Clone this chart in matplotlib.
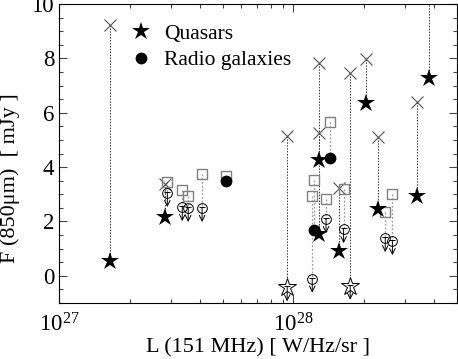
import numpy as np
import matplotlib
matplotlib.use('Agg')
import matplotlib.pyplot as plt
from matplotlib.lines import Line2D

plt.rcParams['font.family'] = ['Liberation Serif', 'DejaVu Serif']
plt.rcParams['mathtext.fontset'] = 'custom'
plt.rcParams['mathtext.rm'] = 'Liberation Serif'
plt.rcParams['mathtext.it'] = 'Liberation Serif:italic'
plt.rcParams['mathtext.bf'] = 'Liberation Serif:bold'

# Quasars, detected (filled star) with comparison value (cross)
q_L = [1.65e27, 2.84e27, 1.29e28, 1.29e28, 1.57e28, 2.05e28, 2.31e28, 3.36e28, 3.78e28]
q_F = [0.55, 2.15, 4.25, 1.55, 0.92, 6.35, 2.46, 2.94, 7.27]
q_Fx = [9.21, 3.38, 5.25, 7.82, 3.23, 7.96, 5.10, 6.39, 10.5]
# Quasars, upper limits (open star + arrow)
ql_L = [9.42e27, 1.75e28]
ql_F = [-0.42, -0.36]
ql_Fx = [5.14, 7.45]
# Radio galaxies, detected (filled circle) with comparison value (square)
r_L = [5.18e27, 1.43e28, 1.23e28]
r_F = [3.50, 4.35, 1.70]
r_Fs = [3.67, 5.65, 3.54]
# Radio galaxies, upper limits (open circle + arrow)
rl_L = [2.90e27, 3.36e27, 3.56e27, 4.08e27, 1.205e28, 1.38e28, 1.64e28, 2.47e28, 2.65e28]
rl_F = [3.05, 2.53, 2.50, 2.50, -0.10, 2.09, 1.72, 1.39, 1.28]
rl_Fs = [3.45, 3.16, 2.94, 3.74, 2.93, 2.82, 3.19, 2.35, 3.00]

legend_labels = ['Quasars', 'Radio galaxies']

fig = plt.figure(figsize=(4.58, 3.59), dpi=100)
ax = fig.add_axes([59/458, 1-303/359, 398/458, 299/359])
ax.set_xscale('log')
ax.set_xlim(1e27, 5.0e28)
ax.set_ylim(-1, 10)

gray = '#808080'
xgray = '#555555'
arrow_len = 0.52

# dotted connectors
for L, a, b in zip(q_L + ql_L, q_Fx + ql_Fx, q_F + ql_F):
    ax.plot([L, L], [a, b], ls=(0, (1.5, 1.5)), color='#333333', lw=0.7, zorder=1)
for L, a, b in zip(r_L + rl_L, r_Fs + rl_Fs, r_F + rl_F):
    ax.plot([L, L], [a, b], ls=(0, (1.5, 1.5)), color='#999999', lw=0.9, zorder=1)

# crosses and squares
ax.plot(q_L + ql_L, q_Fx + ql_Fx, 'x', ms=8, mew=0.8, color=xgray, zorder=2)
ax.plot(r_L + rl_L, r_Fs + rl_Fs, 's', ms=7, mew=1.0, mfc='none', mec=gray, zorder=2)

# detections
ax.plot(q_L, q_F, '*', ms=13.5, color='black', mew=0, zorder=4)
ax.plot(r_L, r_F, 'o', ms=8.5, color='black', mew=0, zorder=4)

# upper limits
ax.plot(ql_L, ql_F, '*', ms=13.5, mfc='white', mec='black', mew=0.7, zorder=3)
ax.plot(rl_L, rl_F, 'o', ms=7, mfc='none', mec='black', mew=0.7, zorder=3)
for L, F in zip(ql_L + rl_L, ql_F + rl_F):
    ax.annotate('', xy=(L, F - arrow_len), xytext=(L, F),
                arrowprops=dict(arrowstyle='->,head_length=0.4,head_width=0.2',
                                lw=0.7, color='black', shrinkA=0, shrinkB=0), zorder=5)
    ax.plot([L], [F + 0.03], marker='_', ms=4, mew=0.7, color='black', zorder=5)

# ticks
ax.set_yticks([0, 2, 4, 6, 8, 10])
ax.set_yticks(np.arange(-1, 10.01, 0.5), minor=True)
ax.tick_params(which='both', direction='in', top=True, right=True, labelsize=16.5,
               color='#444444')
ax.tick_params(axis='x', which='major', pad=7.5)
ax.tick_params(which='major', length=6, width=0.8)
ax.tick_params(which='minor', length=3, width=0.8)
for s in ax.spines.values():
    s.set_linewidth(0.8)

ax.set_xlabel('L (151 MHz) [ W/Hz/sr ]', fontsize=16, labelpad=1)
fig.text(10/458, 1-263/359, 'F (850\u03bcm)  [ mJy ]', fontsize=16, rotation=90,
         ha='center', va='bottom')

handles = [Line2D([], [], marker='*', ls='none', ms=13.5, color='black', mew=0),
           Line2D([], [], marker='o', ls='none', ms=8.5, color='black', mew=0)]
ax.legend(handles, legend_labels, loc='upper left', bbox_to_anchor=(0.14, 0.985),
          frameon=False, fontsize=15.5, handlelength=1.0, handletextpad=0.6,
          labelspacing=0.3, borderaxespad=0.3)

fig.savefig('out.png', dpi=100)
